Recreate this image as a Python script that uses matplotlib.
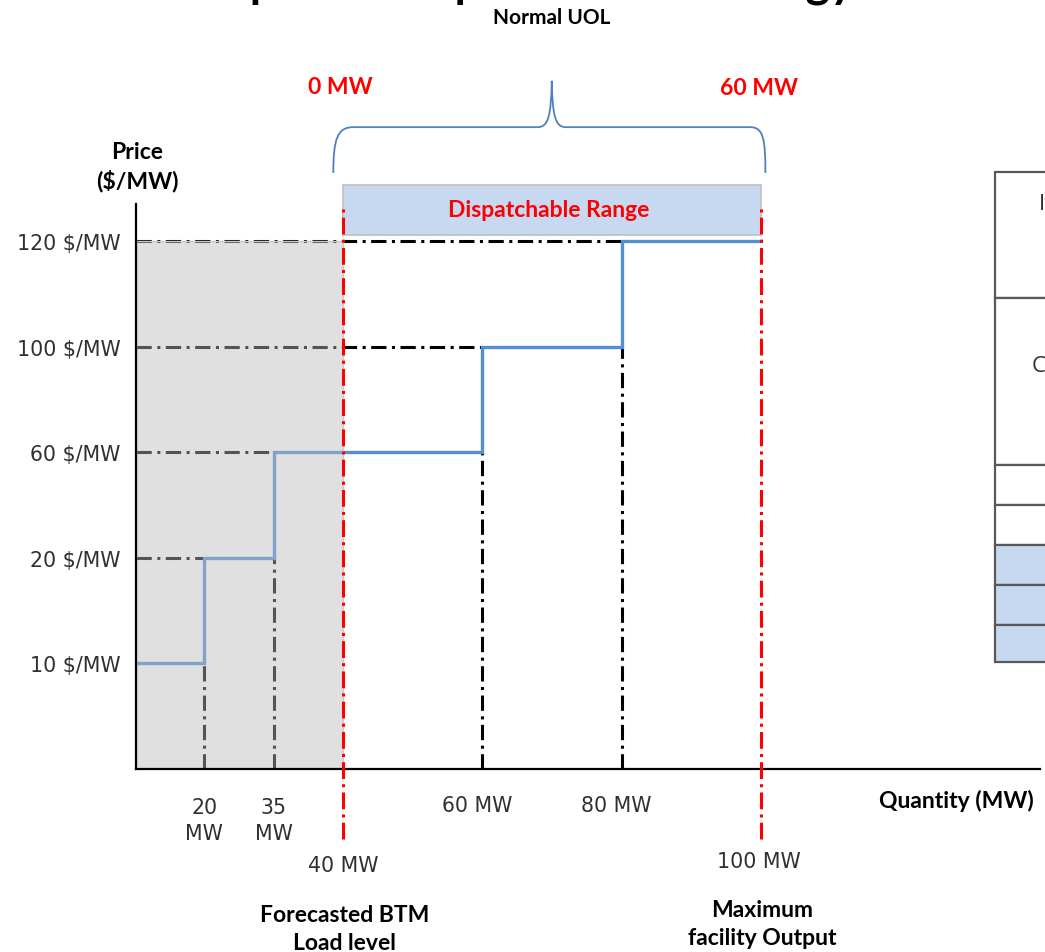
import numpy as np
import matplotlib
matplotlib.use("Agg")
import matplotlib.pyplot as plt
from matplotlib.patches import Rectangle, PathPatch
from matplotlib.path import Path
from matplotlib.font_manager import FontProperties

# ---------------- data ----------------
quantities = [0, 20, 35, 60, 80, 100]          # MW breakpoints of the offer curve
prices = [10, 20, 60, 100, 120]                # $/MW for each segment
price_levels = [10, 20, 60, 100, 120]
btm_load = 40                                  # forecasted BTM load level (MW)
max_output = 100                               # maximum facility output (MW)
uol_low_label = "0 MW"
uol_high_label = "60 MW"
small_qty_labels = ["20\nMW", "35\nMW"]
small_qty_values = [20, 35]
mid_qty_labels = ["60 MW", "80 MW"]
mid_qty_values = [60, 80]
table_row_heights = [126, 167, 40, 40, 40, 40, 37]
table_row_fill = ["white", "white", "white", "white", "#c6d9f0", "#c6d9f0", "#c6d9f0"]
table_texts = ["Item", "Capacity"]
title_text = "Sample Participant Offer Strategy"

# ---------------- style ----------------
BOLD = ["Lato", "DejaVu Sans"]
REG = ["DejaVu Sans"]
BLUE = "#558ed5"
RED = "#ff0000"
TXT = "#303030"
BFS = 16.5   # bold label size
RFS = 14.8   # regular label size

W, H = 1045, 953
fig = plt.figure(figsize=(W / 100, H / 100), dpi=100)

# schematic (non-linear) scales of the diagram
x_knots = [0, 20, 35, 40, 140]
x_pos = [0, 68, 137, 206, 206 + 100 * 6.935]
y_knots = [0, 10, 20, 60, 100, 120, 140]
y_pos = [0, 1, 2, 3, 4, 5, 6]

def fx(v):
    return np.interp(v, x_knots, x_pos)

def ix(v):
    return np.interp(v, x_pos, x_knots)

def fy(v):
    return np.interp(v, y_knots, y_pos)

def iy(v):
    return np.interp(v, y_pos, y_knots)

ax_left, ax_bottom, ax_right, ax_top = 136, 770, 1040, 205
ax = fig.add_axes([ax_left / W, (H - ax_bottom) / H,
                   (ax_right - ax_left) / W, (ax_bottom - ax_top) / H])
ax.set_xscale("function", functions=(fx, ix))
ax.set_yscale("function", functions=(fy, iy))
ax.set_xlim(0, 140.6)
ax.set_ylim(0, 127)
ax.set_facecolor("none")
for s in ["top", "right"]:
    ax.spines[s].set_visible(False)
for s in ["left", "bottom"]:
    ax.spines[s].set_linewidth(1.6)
    ax.spines[s].set_color("black")
    ax.spines[s].set_zorder(5)
ax.set_xticks([])
ax.set_yticks(price_levels)
ax.set_yticklabels([f"{p} $/MW" for p in price_levels], fontfamily=REG,
                   fontsize=RFS, color=TXT)
ax.tick_params(axis="y", length=0, pad=11)

# step offer curve
step_y = prices + [prices[-1]]
ax.step(quantities, step_y, where="post", color=BLUE, lw=2.4, zorder=3,
        solid_joinstyle="miter")

# dash-dot guide lines
dd = (0, (5.0, 1.8, 1.0, 1.8))
for i in range(1, len(prices)):
    ax.plot([0, quantities[i]], [prices[i], prices[i]], color="black", lw=2.2,
            linestyle=dd, zorder=2)
for i in range(1, len(quantities) - 1):
    ax.plot([quantities[i], quantities[i]], [0, prices[i - 1]], color="black", lw=2.2,
            linestyle=dd, zorder=2)

# grey BTM load area (semi transparent overlay)
ax.add_patch(Rectangle((0, 0), btm_load, prices[-1], facecolor=(187 / 255,) * 3,
                       alpha=0.455, edgecolor="none", zorder=4))
ax.add_patch(Rectangle((0, 0), btm_load, prices[-1], facecolor="none",
                       edgecolor="#c8c8c8", lw=1.0, zorder=4))

xt = ax.get_xaxis_transform()
# red dash-dot limits
for q in [btm_load, max_output]:
    ax.plot([q, q], [-0.124, 0.995], transform=xt, color=RED, lw=2.2,
            linestyle=(0, (5.5, 1.7, 1.0, 1.7)), clip_on=False, zorder=6)

# Dispatchable range box
ax.add_patch(Rectangle((btm_load, 0.945), max_output - btm_load, 0.089, transform=xt,
                       facecolor="#c6d9f0", edgecolor="#bfbfbf", lw=1.2,
                       clip_on=False, zorder=3))
ax.text((btm_load + max_output) / 2 - 0.5, 0.990, "Dispatchable Range", transform=xt,
        ha="center", va="center", color=RED, fontfamily=BOLD, fontweight="bold",
        fontsize=BFS)

# curly brace over dispatchable range
xl, xr = btm_load - 0.7, max_output + 0.6
xm = (xl + xr) / 2
y0, y1, y2 = 1.055, 1.136, 1.218
verts = [(xl, y0), (xl, y1 - 0.02), (xl + 0.3, y1), (xl + 2.2, y1),
         (xm - 2.0, y1), (xm - 0.5, y1), (xm - 0.1, y1 + 0.02), (xm, y2),
         (xm + 0.1, y1 + 0.02), (xm + 0.5, y1), (xm + 2.0, y1),
         (xr - 2.2, y1), (xr - 0.3, y1), (xr, y1 - 0.02), (xr, y0)]
codes = [Path.MOVETO, Path.CURVE4, Path.CURVE4, Path.CURVE4,
         Path.LINETO, Path.CURVE4, Path.CURVE4, Path.CURVE4,
         Path.CURVE4, Path.CURVE4, Path.CURVE4,
         Path.LINETO, Path.CURVE4, Path.CURVE4, Path.CURVE4]
ax.add_patch(PathPatch(Path(verts, codes), transform=xt, facecolor="none",
                       edgecolor="#4f81bd", lw=1.3, clip_on=False))

ax.text(btm_load - 0.2, 1.208, uol_low_label, transform=xt, ha="center", va="center",
        color=RED, fontfamily=BOLD, fontweight="bold", fontsize=BFS)
ax.text(max_output - 0.3, 1.206, uol_high_label, transform=xt, ha="center", va="center",
        color=RED, fontfamily=BOLD, fontweight="bold", fontsize=BFS)
ax.text(xm, 1.331, "Normal UOL", transform=xt, ha="center", va="center",
        color="black", fontfamily=BOLD, fontweight="bold", fontsize=15)

# axis labels
ax.text(0.4, 1.067, "Price\n($/MW)", transform=xt, ha="center", va="center",
        fontfamily=BOLD, fontweight="bold", fontsize=BFS, linespacing=1.4)
ax.text(128.0, -0.054, "Quantity (MW)", transform=xt, ha="center", va="center",
        fontfamily=BOLD, fontweight="bold", fontsize=BFS)

# quantity labels
for q, lab in zip(small_qty_values, small_qty_labels):
    ax.text(q, -0.090, lab, transform=xt, ha="center", va="center",
            fontfamily=REG, fontsize=RFS, color=TXT, linespacing=1.35)
for q, lab in zip(mid_qty_values, mid_qty_labels):
    ax.text(q - 0.8, -0.064, lab, transform=xt, ha="center", va="center",
            fontfamily=REG, fontsize=RFS, color=TXT)
ax.text(btm_load + 0.1, -0.170, f"{btm_load} MW", transform=xt, ha="center", va="center",
        fontfamily=REG, fontsize=RFS, color=TXT)
ax.text(max_output - 0.3, -0.163, f"{max_output} MW", transform=xt, ha="center",
        va="center", fontfamily=REG, fontsize=RFS, color=TXT)
ax.text(btm_load + 0.2, -0.283, "Forecasted BTM\nLoad level", transform=xt, ha="center",
        va="center", fontfamily=BOLD, fontweight="bold", fontsize=BFS, linespacing=1.42)
ax.text(max_output + 0.1, -0.274, "Maximum\nfacility Output", transform=xt, ha="center",
        va="center", fontfamily=BOLD, fontweight="bold", fontsize=BFS, linespacing=1.42)

# title (mostly cropped by the slide edge): size/offset chosen so that the
# visible descenders land where they are in the reference
renderer = fig.canvas.get_renderer()
tprop = FontProperties(family=BOLD, weight="bold", size=30)
w_a = renderer.get_text_width_height_descent("Sam", tprop, ismath=False)[0]
w_b = renderer.get_text_width_height_descent("Sample Participant Offer Strate", tprop,
                                             ismath=False)[0]
k = (806 - 250) / (w_b - w_a)
title_fs = 30 * k
title_x = 250 - w_a * k
fig.text(title_x / W, 1.004, title_text, ha="left", va="baseline",
         fontfamily=BOLD, fontweight="bold", fontsize=title_fs)

# partial table on the right
tab_top, tab_bottom, tab_left = 173, 663, 995
tab_h = tab_bottom - tab_top
tax = fig.add_axes([tab_left / W, (H - tab_bottom) / H, 300 / W, tab_h / H])
tax.axis("off")
cells = [[""] for _ in table_row_heights]
tbl = tax.table(cellText=cells, cellColours=[[c] for c in table_row_fill],
                bbox=[0, 0, 1, 1], edges="closed")
for r, h in enumerate(table_row_heights):
    cell = tbl[(r, 0)]
    cell.set_height(h / tab_h)
    cell.set_edgecolor("#595959")
    cell.set_linewidth(1.6)
tax.text(44 / 300, 1 - 32 / tab_h, table_texts[0], transform=tax.transAxes, ha="left",
         va="center", fontfamily=["Open Sans", "DejaVu Sans"], fontsize=16, color=TXT)
tax.text(37 / 300, 1 - 194 / tab_h, table_texts[1], transform=tax.transAxes, ha="left",
         va="center", fontfamily=["Open Sans", "DejaVu Sans"], fontsize=16, color=TXT)

fig.savefig("out.png", dpi=100)
